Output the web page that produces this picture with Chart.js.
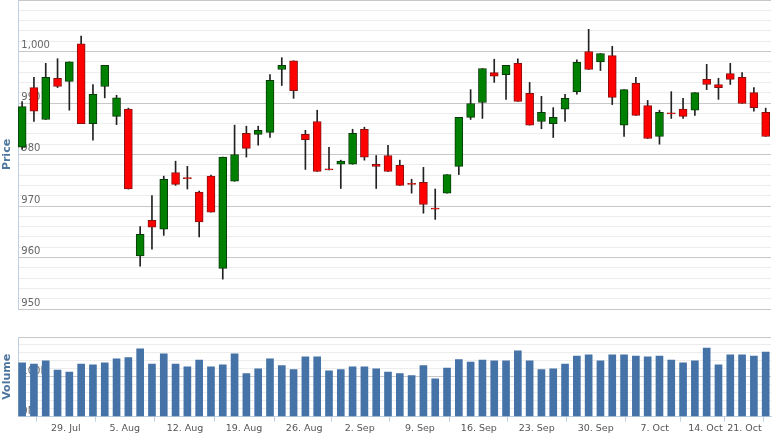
<!DOCTYPE html>
<html><head><meta charset="utf-8">
<script src="https://cdn.jsdelivr.net/npm/chart.js@4"></script>
<style>
body{margin:0;background:#fff;width:776px;height:435px;overflow:hidden;position:relative}
#p{position:absolute;left:0;top:-3px}
#v{position:absolute;left:0;top:333px}
</style></head><body>
<canvas id="p" width="776" height="315"></canvas>
<canvas id="v" width="776" height="102"></canvas>
<script>
const opens  = [981.4,993,986.8,994.8,994.2,1001.5,986,993.2,987.4,988.8,960.3,967.2,965.5,976.5,975.5,972.7,975.8,957.9,974.8,984.1,983.9,984.3,996.5,998.2,983.9,986.4,977.2,978.1,978.1,984.9,978.1,979.8,977.9,974.4,974.6,969.6,972.5,977.7,987.2,990.1,995.9,995.5,997.7,991.9,986.4,986,988.8,992.2,1000,998,999.2,985.7,993.8,989.5,983.5,988.1,988.8,988.6,994.6,993.6,995.7,995,992,988.2];
const closes = [989.3,988.4,995,993.2,998,986,991.7,997.3,991,973.3,964.5,965.9,975.2,974.2,975.3,966.9,968.8,979.5,980,981.2,984.7,994.4,997.3,992.4,982.9,976.7,977.0,978.7,984.1,979.5,977.7,976.7,974,974.2,970.3,969.4,976.1,987.2,989.9,996.7,995.2,997.3,990.3,985.7,988.2,987.2,990.9,997.9,996.5,999.6,991.1,992.6,987.6,983.1,988.2,987.9,987.4,992,993.6,993,994.6,989.9,989.1,983.5];
const highs  = [990.3,995,997.7,998.6,998,1003,993.6,997.3,991.5,989,966,972,975.8,978.7,977.7,972.9,976,979.5,985.7,985.5,985.5,995.5,998.8,998.2,984.7,988.6,981.4,978.9,984.9,985.3,979.8,981.8,978.9,975.2,977.5,973.3,976.1,987.2,992.6,996.7,998.5,997.3,998.6,994,991.3,989.1,991.7,998.4,1004.3,999.6,1001,992.6,995,990.5,988.6,992.2,990.9,992,997.5,994.8,997.7,995.9,993,989];
const lows   = [981,986.4,986.8,993,988.6,986,982.8,991,985.8,973.3,958.3,961.6,964.3,974,973.3,964,968.8,955.8,974.8,979.5,981.8,983.3,993.4,990.9,977.1,976.7,977,973.4,978.1,978.9,973.4,976.7,974,972.5,968.6,967.4,972.5,976.1,986.8,987,994,990.7,990.3,985.7,985,983.3,986.4,991.7,996.5,996.3,989.7,983.5,987.6,983.1,982,987,987,987.6,992.6,990.7,993.6,989.9,988.4,983.5];
const volumes = [135,132,140,117,112,132,130,135,145,148,170,132,158,132,125,142,125,130,158,108,120,145,128,118,150,150,115,118,125,125,120,112,108,103,128,95,122,143,137,142,140,140,165,140,118,120,132,152,155,140,155,155,152,150,152,142,135,140,172,130,155,155,152,162];
const tickPos = [3.7,8.7,13.8,18.8,23.9,28.6,33.7,38.7,43.6,48.6,53.6,57.9,61.2];
const tickLabels = ['29. Jul','5. Aug','12. Aug','19. Aug','26. Aug','2. Sep','9. Sep','16. Sep','23. Sep','30. Sep','7. Oct','14. Oct','21. Oct'];

const idx = opens.map((_, i) => i);
const up = idx.map(i => closes[i] >= opens[i]);
const font = {family:'DejaVu Sans', size:10};
const xBase = {type:'linear', min:-0.35, max:63.45, offset:false};
const fixW = s => { s.width = 18; };

new Chart(document.getElementById('p'), {
  type:'bar',
  data:{datasets:[
    {data: idx.map(i => ({x:i, y:[lows[i], highs[i]]})), backgroundColor:'#222', barThickness:1, grouped:false, order:2},
    {data: idx.map(i => ({x:i, y:[opens[i], closes[i]]})), backgroundColor: idx.map(i => up[i] ? '#008000' : '#ff0000'),
     borderColor: idx.map(i => up[i] ? '#0a3a0a' : '#8a1010'), borderWidth:1, borderSkipped:false, barThickness:8, grouped:false, order:1, minBarLength:1}
  ]},
  options:{responsive:false, animation:false, events:[],
    layout:{padding:{right:5, top:0, bottom:0}},
    plugins:{legend:{display:false}, tooltip:{enabled:false}},
    scales:{
      x:{...xBase, display:false},
      y:{min:950, max:1010, afterFit:fixW,
        border:{display:true, color:'#c0d0e0'},
        title:{display:true, text:'Price', color:'#4d759e', font:{family:'DejaVu Sans', size:11, weight:'bold'}, padding:1},
        grid:{color: c => (c.tick && c.tick.value % 10 === 0) ? '#c8c8c8' : '#ececec', drawTicks:false},
        ticks:{stepSize:2, autoSkip:false, mirror:true, padding:-3, labelOffset:-6, color:'#666', font,
          callback: v => (v % 10 === 0 && v <= 1000) ? '  ' + v.toLocaleString('en-US') : ''}
      }
    }
  }
});

new Chart(document.getElementById('v'), {
  type:'bar',
  data:{datasets:[{data: idx.map(i => ({x:i, y:volumes[i]})), backgroundColor:'#4572a7', barThickness:7}]},
  options:{responsive:false, animation:false, events:[],
    layout:{padding:{right:5, top:4}},
    plugins:{legend:{display:false}, tooltip:{enabled:false}},
    scales:{
      x:{...xBase,
        afterBuildTicks: a => { a.ticks = tickPos.map(v => ({value:v})); },
        border:{display:true, color:'#c0d0e0'},
        grid:{drawOnChartArea:false, tickLength:5, color:'#c0d0e0'},
        ticks:{autoSkip:false, maxRotation:0, padding:1, color:'#555', font:{family:'DejaVu Sans', size:9.5},
          callback:(v, i) => tickLabels[i]}
      },
      y:{min:0, max:200, afterFit:fixW,
        border:{display:true, color:'#c0d0e0'},
        title:{display:true, text:'Volume', color:'#4d759e', font:{family:'DejaVu Sans', size:11, weight:'bold'}, padding:1},
        grid:{color: c => (c.tick && c.tick.value % 100 === 0) ? '#c8c8c8' : '#ececec', drawTicks:false},
        ticks:{stepSize:20, autoSkip:false, mirror:true, padding:-3, labelOffset:-5, color:'#666', font,
          callback: v => (v === 0 || v === 100) ? '  ' + v + 'M' : ''}
      }
    }
  }
});
</script></body></html>
